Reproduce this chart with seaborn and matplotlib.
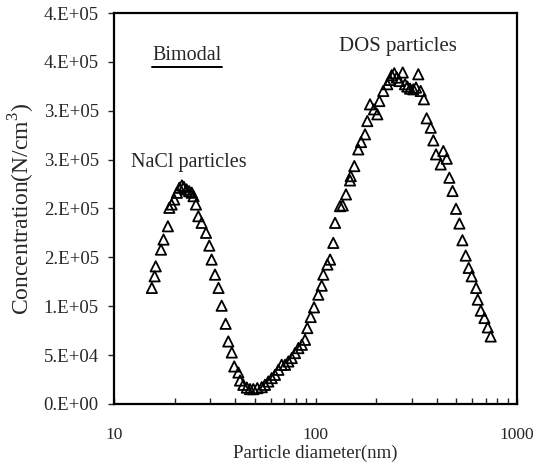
import matplotlib
matplotlib.use('Agg')
import matplotlib.pyplot as plt
import matplotlib.ticker as mticker
from matplotlib.lines import Line2D
import pandas as pd
import seaborn as sns

# particle diameter (nm)
diameter = [15.4, 15.9, 16.1, 17.1, 17.6, 18.5, 18.8, 19.3, 19.9, 20.5,
            21.1, 21.7, 22.2, 22.9, 23.6, 24.3, 24.8, 25.5, 26.2, 27.2,
            28.6, 29.7, 30.5, 31.7, 33.0, 34.2, 35.8, 36.9, 38.4, 39.5,
            41.4, 42.2, 43.8, 45.6, 47.3, 49.1, 51.4, 54.1, 56.1, 58.3,
            60.6, 62.9, 65.4, 67.9, 70.6, 73.3, 76.2, 79.1, 82.2, 85.5,
            88.7, 91.0, 94.6, 98.3, 103.2, 107.3, 109.3, 114.5, 118.1, 122.5,
            125.0, 132.3, 136.4, 141.6, 148.3, 149.5, 155.8, 163.0, 168.2, 176.1,
            180.7, 186.4, 195.0, 202.6, 207.4, 216.9, 227.0, 234.2, 238.8, 246.0,
            252.9, 260.6, 270.9, 278.1, 285.5, 294.5, 305.7, 315.3, 323.6, 332.5,
            345.1, 356.0, 373.0, 384.4, 396.3, 418.1, 430.8, 447.9, 461.5, 478.6,
            498.1, 517.6, 535.8, 556.3, 575.7, 595.6, 626.5, 638.6, 660.9, 688.9,
            716.1, 740.1]

# number concentration (N/cm3)
concentration = [118700, 130600, 140800, 157900, 168200, 181800, 200700, 204100, 209200, 216100,
                 221200, 223600, 222200, 219500, 217700, 216100, 212600, 204100, 192100, 185300,
                 175100, 162000, 147700, 132300, 118700, 100500, 82000, 63900, 52600, 38300,
                 32100, 23900, 19500, 16700, 15100, 15100, 16100, 17100, 19500, 22900,
                 26400, 29700, 34900, 40000, 40000, 43400, 46900, 52000, 57100, 60500,
                 65600, 77600, 88900, 98800, 111800, 121000, 132300, 142600, 147700, 164800,
                 185300, 202400, 203100, 214400, 228700, 233100, 243400, 260500, 268000, 275900,
                 289500, 306600, 301500, 296400, 310000, 320300, 327200, 331600, 336400, 338400,
                 334000, 330500, 339200, 327200, 324800, 322700, 322000, 323800, 337400, 320300,
                 311800, 292300, 282700, 269700, 255400, 245100, 258800, 251000, 231500, 217900,
                 199700, 184600, 167500, 151800, 139200, 130600, 118700, 106700, 95400, 87900,
                 78300, 69000]

y_ticks = [0, 50000, 100000, 150000, 200000, 250000, 300000, 350000, 400000]
y_tick_labels = ['0.E+00', '5.E+04', '1.E+05', '2.E+05', '2.E+05',
                 '3.E+05', '3.E+05', '4.E+05', '4.E+05']
x_ticks = [10, 100, 1000]
x_tick_labels = ['10', '100', '1000']

df = pd.DataFrame({'diameter': diameter, 'concentration': concentration})

sns.set_style('ticks')
plt.rcParams['font.family'] = ['Liberation Serif', 'DejaVu Serif']
plt.rcParams['mathtext.fontset'] = 'custom'
plt.rcParams['mathtext.rm'] = 'Liberation Serif'

fig = plt.figure(figsize=(5.38, 4.68), dpi=100)
ax = fig.add_axes([0.212, 0.137, 0.749, 0.835])

sns.scatterplot(data=df, x='diameter', y='concentration', ax=ax,
                marker='^', s=55, facecolors='none', edgecolor='black',
                linewidth=1.3, legend=False)

ax.set_xscale('log')
ax.set_xlim(10, 1000)
ax.set_ylim(0, 400000)
ax.set_xticks(x_ticks)
ax.set_xticklabels(x_tick_labels)
ax.xaxis.set_minor_locator(mticker.LogLocator(base=10, subs=range(2, 10)))
ax.xaxis.set_minor_formatter(mticker.NullFormatter())
ax.set_yticks(y_ticks)
ax.set_yticklabels(y_tick_labels)

ax.tick_params(axis='x', which='both', direction='in', length=4, width=1, labelsize=12.5, pad=17)
ax.tick_params(axis='y', direction='out', length=4, width=1, labelsize=13.5, pad=7)
for side in ax.spines.values():
    side.set_linewidth(1.6)
    side.set_color('black')

ax.set_xlabel('Particle diameter(nm)', fontsize=13.5, labelpad=1)
ax.set_ylabel('Concentration(N/cm$^3$)', fontsize=17, labelpad=5)

fig.text(0.283, 0.871, 'Bimodal', fontsize=14.5, ha='left', va='baseline')
fig.add_artist(Line2D([0.283, 0.412], [0.857, 0.857], color='black', lw=1.4,
                      transform=fig.transFigure))
fig.text(0.74, 0.891, 'DOS particles', fontsize=15, ha='center', va='baseline')
fig.text(0.243, 0.643, 'NaCl particles', fontsize=14.5, ha='left', va='baseline')

fig.savefig('out.png', dpi=100)
